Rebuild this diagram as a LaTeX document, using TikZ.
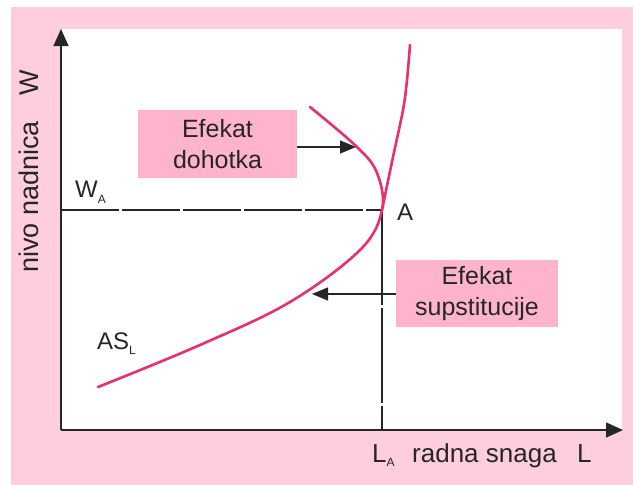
\documentclass[tikz,border=0pt]{standalone}
\usepackage{fontspec}
\setmainfont{Liberation Sans}
\usetikzlibrary{arrows.meta}
\definecolor{framepink}{RGB}{255,206,222}
\definecolor{boxpink}{RGB}{255,180,203}
\definecolor{curvepink}{RGB}{233,48,106}
\definecolor{ink}{RGB}{38,38,38}
\begin{document}
\begin{tikzpicture}[x=1pt,y=-1pt,
  axis/.style={ink, line width=1.5pt, -{Triangle[length=17pt,width=15pt]}},
  guide/.style={ink, line width=1.1pt, dash pattern=on 58pt off 3pt},
  effarrow/.style={ink, line width=1.3pt, -{Triangle[length=16pt,width=13pt]}},
  effbox/.style={fill=boxpink, text=ink, align=center, inner sep=0pt,
    font=\fontsize{25}{31}\selectfont},
  supcurve/.style={curvepink, line width=2.6pt, line cap=round},
  lbl/.style={text=ink, inner sep=0pt, font=\fontsize{24}{28}\selectfont},
  biglbl/.style={text=ink, inner sep=0pt, font=\fontsize{26}{30}\selectfont}
]
\useasboundingbox (0,0) rectangle (633,485);
\fill[white] (0,0) rectangle (633,485);
\fill[framepink] (11,7) rectangle (633,485);
\fill[white] (62,29) rectangle (622,430);

% axes
\coordinate (O) at (61,430);
\coordinate (Ytop) at (61,29);
\coordinate (Xend) at (623,430);
\draw[axis] (O) -- (Ytop);
\draw[axis] (O) -- (Xend);

% point A and guides
\coordinate (A) at (382,210);
\coordinate (WA) at (61,210);
\coordinate (LA) at (382,430);
\draw[guide] (WA) -- (A);
\draw[guide, dash pattern=on 95pt off 3pt] (A) -- (LA);

% curves
\draw[supcurve] plot[smooth, tension=0.6] coordinates
  {(98,387) (200,345) (290,302) (360,250) (382,210) (377,173) (357,147) (310,107)};
\draw[supcurve] plot[smooth, tension=0.6] coordinates
  {(382,210) (393,157) (403,110) (407,80) (410,45)};

% boxes
\node[effbox, minimum width=159pt, minimum height=68pt] (inc) at (217.5,144) {Efekat\\dohotka};
\node[effbox, minimum width=162pt, minimum height=67pt] (sub) at (477,293.5) {Efekat\\supstitucije};
\coordinate (incTip) at (356,147);
\coordinate (subTip) at (312,294);
\draw[effarrow] (inc.east |- incTip) -- (incTip);
\draw[effarrow] (sub.west |- subTip) -- (subTip);

% labels
\node[lbl, anchor=base west] (wa) at (75,197) {W\raisebox{-6pt}{\fontsize{12}{12}\selectfont A}};
\node[lbl, anchor=base west] (alab) at (397,220) {A};
\node[lbl, anchor=base west] (as) at (97,349) {AS\raisebox{-5pt}{\fontsize{12}{12}\selectfont L}};
\node[biglbl, anchor=base west] (la) at (372,462) {L\raisebox{-4pt}{\fontsize{12}{12}\selectfont A}};
\node[biglbl, anchor=base west] (radna) at (412,462) {radna snaga};
\node[biglbl, anchor=base west] (lx) at (577,462) {L};
\node[text=ink, inner sep=0pt, font=\fontsize{27}{30}\selectfont, anchor=base west, rotate=90] (ylab) at (38,273) {nivo nadnica\hspace{26pt}W};
\end{tikzpicture}
\end{document}
